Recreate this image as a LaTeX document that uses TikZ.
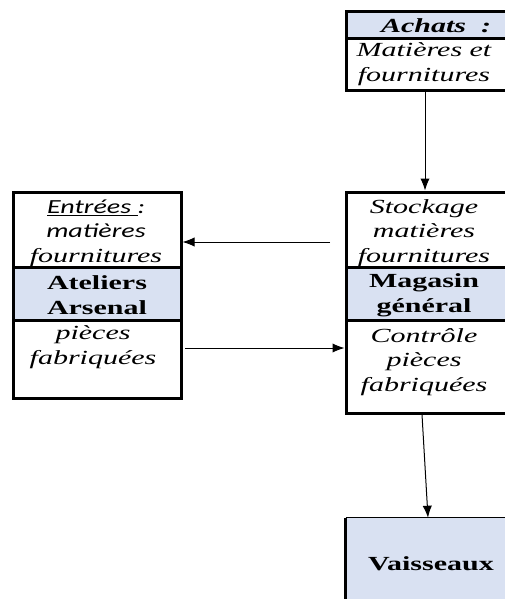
\documentclass[tikz,border=0pt]{standalone}
\usepackage{fontspec}
\setmainfont{Liberation Serif}
\newfontfamily\wideserif[FakeStretch=1.5]{Liberation Serif}
\newfontfamily\widesans[FakeStretch=1.4]{Carlito}
\usetikzlibrary{arrows.meta}
\definecolor{bandblue}{RGB}{217,225,242}
\tikzset{
    sect/.style = {
        draw,
        shape=rectangle,
        inner sep=0pt,
        line width=2.25pt
    },
    rsect/.style = {
        sect,
        minimum width=138pt
    },
    lsect/.style = {
        sect,
        minimum width=126pt
    },
    band/.style = {
        fill=bandblue
    },
    txt/.style = {
        align=center,
        inner sep=0pt,
        font=\wideserif\fontsize{15}{18.4}\selectfont
    },
    >={Latex[length=9pt,width=7pt]},
}

\begin{document}
\begin{tikzpicture}[x=0.75pt, y=-0.75pt]
            \useasboundingbox (0,0) rectangle (505,599);
            \clip (0,0) rectangle (505,599);

            % boxes
            \node[rsect, band, minimum height=20.25pt] (achead) at (438,25.5) {};
            \node[rsect, minimum height=39pt] (acbody) at (438,65) {};
            \node[rsect, minimum height=56.25pt] (stock) at (438,229.5) {};
            \node[rsect, band, minimum height=39.75pt] (mag) at (438,293.5) {};
            \node[rsect, minimum height=69.75pt] (ctrl) at (438,366.5) {};
            \node[lsect, minimum height=56.25pt] (entr) at (97,229.5) {};
            \node[lsect, band, minimum height=39.75pt] (atel) at (97,293.5) {};
            \node[lsect, minimum height=58.5pt] (pieces) at (97,359) {};
            \node[shape=rectangle, band, minimum width=138pt, minimum height=91.5pt] (vais) at (438,579) {};
            \draw[line width=0.75pt] (vais.north west) -- (vais.north east);
            \draw[line width=2.25pt] (vais.north west) -- (vais.south west);

            % texts
            \node[txt] (achatstxt) at (436,26) {\textbf{\textit{Achats\ \ :}}};
            \node[txt] (matierestxt) at (424,64) {\itshape Matières et\\ \itshape fournitures};
            \node[txt] (stocktxt) at (424,233) {\itshape Stockage\\ \itshape matières\\ \itshape fournitures};
            \node[txt] (magtxt) at (424,295) {\bfseries Magasin\\ \bfseries général};
            \node[txt] (ctrltxt) at (424,362) {\itshape Contrôle\\ \itshape pièces\\ \itshape fabriquées};
            \node[txt] (entrtxt) at (96,233) {{\widesans\itshape \underline{Entrées\ }:}\\
            {\widesans\itshape matières}\\ \itshape fournitures};
            \node[txt] (ateltxt) at (97,295) {\bfseries Ateliers\\ \bfseries Arsenal};
            \node[txt] (piecestxt) at (93,347) {\itshape pièces\\ \itshape fabriquées};
            \node[txt] (vaistxt) at (431,564) {\bfseries Vaisseaux};

            % arrows
            \coordinate (back) at (330,242);
            \coordinate (out) at (185,348);
            \path[draw, line width=0.75pt, ->] (acbody.south -| 425,0) -- (stock.north -| 425,0);
            \path[draw, line width=0.75pt, ->] (back) -- (entr.east |- back);
            \path[draw, line width=0.75pt, ->] (out) -- (ctrl.west |- out);
            \path[draw, line width=0.75pt, ->] (ctrl.south -| 422,0) -- (vais.north -| 428,0);
\end{tikzpicture}
\end{document}
